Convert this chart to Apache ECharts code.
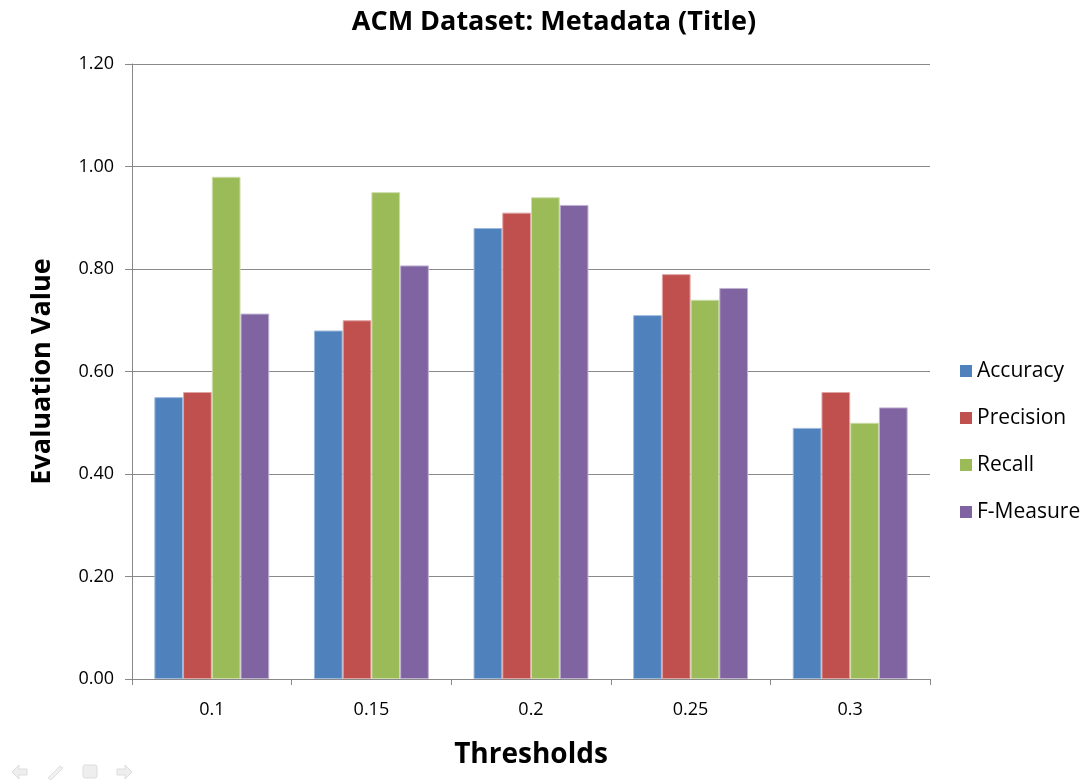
<!DOCTYPE html>
<html>
<head>
<meta charset="utf-8">
<script src="https://cdn.jsdelivr.net/npm/echarts@6/dist/echarts.min.js"></script>
<style>
html,body{margin:0;padding:0;background:#fff;}
#chart{width:1086px;height:781px;}
</style>
</head>
<body>
<div id="chart"></div>
<script>
const categories = ['0.1', '0.15', '0.2', '0.25', '0.3'];
const accuracy  = [0.55, 0.68, 0.88, 0.71, 0.49];
const precision = [0.56, 0.70, 0.91, 0.79, 0.56];
const recall    = [0.98, 0.95, 0.94, 0.74, 0.50];
const fMeasure  = [0.713, 0.807, 0.925, 0.763, 0.53];
const yTicks = [0, 0.2, 0.4, 0.6, 0.8, 1.0, 1.2];

const seriesDefs = [
  {name: 'Accuracy', data: accuracy, color: '#4F81BD', border: '#9DB9DC'},
  {name: 'Precision', data: precision, color: '#C0504D', border: '#E0A5A3'},
  {name: 'Recall', data: recall, color: '#9BBB59', border: '#CCDDAA'},
  {name: 'F-Measure', data: fMeasure, color: '#8064A2', border: '#C0B2D2'}
];

const FONT = '"Open Sans", "Noto Sans", sans-serif';
const chart = echarts.init(document.getElementById('chart'));
chart.setOption({
  animation: false,
  backgroundColor: '#ffffff',
  title: {
    text: 'ACM Dataset: Metadata (Title)',
    left: 549, top: 4, textAlign: 'center',
    textStyle: {fontFamily: FONT, fontWeight: 'bold', fontSize: 27, color: '#000'}
  },
  legend: {
    orient: 'vertical',
    left: 955, top: 354,
    itemWidth: 12, itemHeight: 12, itemGap: 23,
    icon: 'rect',
    textStyle: {fontFamily: FONT, fontSize: 21, lineHeight: 24, color: '#000', padding: [0,0,0,0]},
    data: seriesDefs.map(s => ({name: s.name, itemStyle: {color: s.color, borderWidth: 0}}))
  },
  grid: {left: 132, right: 156, top: 64, bottom: 102, containLabel: false},
  xAxis: {
    type: 'category',
    data: categories,
    name: 'Thresholds',
    nameLocation: 'middle',
    nameGap: 62,
    nameTextStyle: {fontFamily: FONT, fontWeight: 'bold', fontSize: 28, color: '#000'},
    axisLine: {lineStyle: {color: '#888', width: 1}},
    axisTick: {show: true, alignWithLabel: false, length: 6, lineStyle: {color: '#888'}},
    axisLabel: {fontFamily: FONT, fontSize: 18, color: '#000', margin: 22}
  },
  yAxis: {
    type: 'value',
    min: 0, max: 1.2, interval: 0.2,
    name: 'Evaluation Value',
    nameLocation: 'middle',
    nameGap: 76,
    nameTextStyle: {fontFamily: FONT, fontWeight: 'bold', fontSize: 27, color: '#000'},
    axisLine: {show: true, lineStyle: {color: '#888', width: 1}},
    axisTick: {show: true, length: 7, lineStyle: {color: '#888'}},
    axisLabel: {fontFamily: FONT, fontSize: 18, color: '#000', margin: 18,
      formatter: v => v.toFixed(2)},
    splitLine: {lineStyle: {color: '#8a8a8a', width: 1}}
  },
  series: seriesDefs.map(s => ({
    name: s.name,
    type: 'bar',
    data: s.data,
    barGap: '0%',
    barCategoryGap: '28%',
    itemStyle: {color: s.color, borderColor: s.border, borderWidth: 1}
  })),
  graphic: [
    {type: 'polygon', shape: {points: [[12,772],[19,765],[19,769],[27,769],[27,775],[19,775],[19,779]]}, style: {fill: '#eeeeee', stroke: '#dddddd'}},
    {type: 'polygon', shape: {points: [[48,778],[60,766],[63,768],[51,780]]}, style: {fill: '#f0f0f0', stroke: '#e0e0e0'}},
    {type: 'rect', shape: {x: 83, y: 765, width: 14, height: 13, r: 2}, style: {fill: '#eeeeee', stroke: '#dddddd'}},
    {type: 'polygon', shape: {points: [[132,772],[125,765],[125,769],[117,769],[117,775],[125,775],[125,779]]}, style: {fill: '#eeeeee', stroke: '#dddddd'}}
  ]
});
</script>
</body>
</html>
